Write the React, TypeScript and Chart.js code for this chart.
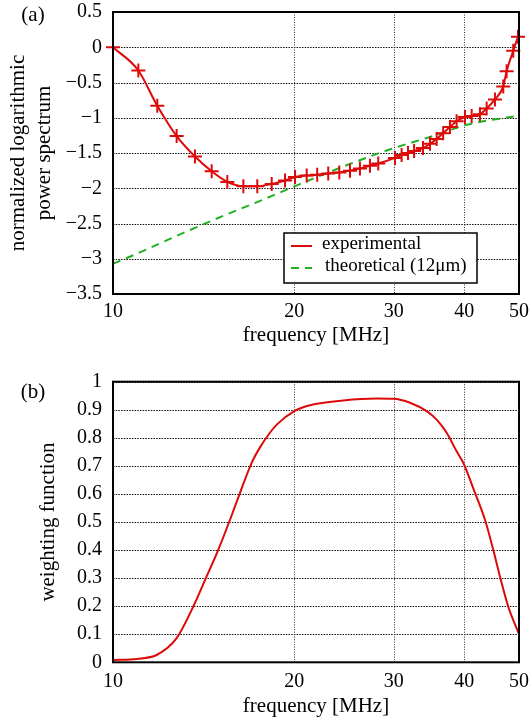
import React, { useEffect, useRef } from 'react';
import { Chart, registerables } from 'chart.js';

Chart.register(...registerables);

// ---------- data ----------
const X_MIN = 9.55;
const X_MAX = 50;
const X_TICKS = [9.55, 20, 30, 40, 50];
const X_TICK_LABELS = ['10', '20', '30', '40', '50'];
const X_GRID = [20, 30, 40];

const A_Y_TICKS = [-3.5, -3, -2.5, -2, -1.5, -1, -0.5, 0, 0.5];
const A_Y_TICK_LABELS = ['\u22123.5', '\u22123', '\u22122.5', '\u22122', '\u22121.5', '\u22121', '\u22120.5', '0', '0.5'];

const B_Y_TICKS = [0, 0.1, 0.2, 0.3, 0.4, 0.5, 0.6, 0.7, 0.8, 0.9, 1];
const B_Y_TICK_LABELS = ['0', '0.1', '0.2', '0.3', '0.4', '0.5', '0.6', '0.7', '0.8', '0.9', '1'];

const EXP_FREQ = [9.55, 10.59, 11.44, 12.38, 13.34, 14.28, 15.22, 16.25, 17.2, 18.24, 19.26, 20.06, 21.04, 21.96, 22.97, 24.03, 25.1, 26.14, 27.23, 28.17, 30.15, 30.98, 31.8, 32.6, 33.8, 34.78, 35.74, 36.7, 37.73, 38.77, 40.11, 41.22, 42.64, 43.82, 45.33, 46.89, 47.54, 48.84, 49.8];
const EXP_VALUE = [0, -0.33, -0.83, -1.26, -1.55, -1.76, -1.91, -1.97, -1.97, -1.94, -1.89, -1.84, -1.82, -1.81, -1.79, -1.775, -1.75, -1.72, -1.68, -1.65, -1.57, -1.53, -1.5, -1.47, -1.43, -1.37, -1.3, -1.22, -1.13, -1.05, -0.99, -0.975, -0.95, -0.87, -0.74, -0.555, -0.34, -0.05, 0.15];

const THEO_FREQ = [9.55, 10.1, 13.99, 17.63, 20.06, 24.1, 29.5, 35.2, 40.4, 50];
const THEO_VALUE = [-3.07, -2.99, -2.49, -2.16, -1.97, -1.71, -1.45, -1.26, -1.1, -0.97];

const W_FREQ = [9.55, 10.52, 11.41, 12.38, 13.25, 13.99, 14.67, 15.39, 16.03, 16.81, 17.39, 18.11, 18.62, 20.0, 21.32, 24.42, 27.98, 30.0, 32.05, 34.31, 35.74, 36.7, 37.23, 38.77, 39.83, 41.78, 43.52, 45.02, 46.26, 47.85, 50];
const W_VALUE = [0.008, 0.012, 0.026, 0.086, 0.199, 0.306, 0.401, 0.508, 0.604, 0.711, 0.766, 0.818, 0.847, 0.895, 0.916, 0.933, 0.94, 0.939, 0.925, 0.895, 0.865, 0.836, 0.818, 0.752, 0.711, 0.604, 0.508, 0.401, 0.306, 0.199, 0.1];

const SERIES_A_LABELS = ['experimental', 'theoretical (12\u03bcm)'];
const Y_TITLE_A = ['normalized logarithmic', 'power spectrum'];
const Y_TITLE_B = 'weighting function';
const X_TITLE = 'frequency [MHz]';

// ---------- styles ----------
const FONT = '"Liberation Serif", "Times New Roman", serif';
const RED = '#dd0a0a';
const GREEN = '#22b022';

const pts = (xs: number[], ys: number[]) => xs.map((x, i) => ({ x, y: ys[i] }));

function decorPlugin(panelLabel: string, labelX: number, labelY: number, withLegend: boolean) {
  return {
    id: 'decor' + panelLabel,
    beforeDatasetsDraw(chart: any) {
      const { ctx, chartArea: a, scales } = chart;
      const x = scales.x, y = scales.y;
      ctx.save();
      ctx.strokeStyle = '#111';
      ctx.lineWidth = 1.2;
      ctx.setLineDash([1.5, 1.2]);
      y.ticks.forEach((t: any) => {
        const py = Math.round(y.getPixelForValue(t.value)) + 0.5;
        ctx.beginPath(); ctx.moveTo(a.left, py); ctx.lineTo(a.right, py); ctx.stroke();
      });
      ctx.strokeStyle = '#333';
      ctx.lineWidth = 1;
      ctx.setLineDash([1, 1.5]);
      X_GRID.forEach((v) => {
        const px = Math.round(x.getPixelForValue(v)) + 0.5;
        ctx.beginPath(); ctx.moveTo(px, a.top); ctx.lineTo(px, a.bottom); ctx.stroke();
      });
      ctx.restore();
    },
    afterDraw(chart: any) {
      const { ctx, chartArea: a } = chart;
      ctx.save();
      ctx.setLineDash([]);
      ctx.strokeStyle = '#000';
      ctx.lineWidth = 2;
      ctx.strokeRect(a.left, a.top, a.right - a.left, a.bottom - a.top);
      ctx.fillStyle = '#000';
      ctx.font = '21px ' + FONT;
      ctx.textAlign = 'center';
      ctx.textBaseline = 'middle';
      ctx.fillText(panelLabel, labelX, labelY);
      if (withLegend) {
        const bx = 284, by = 233, bw = 193, bh = 50;
        ctx.fillStyle = '#fff';
        ctx.fillRect(bx, by, bw, bh);
        ctx.strokeStyle = '#000';
        ctx.lineWidth = 1.5;
        ctx.strokeRect(bx, by, bw, bh);
        const rows = [245.5, 267.5];
        chart.data.datasets.forEach((ds: any, i: number) => {
          ctx.save();
          ctx.strokeStyle = ds.borderColor;
          ctx.lineWidth = 2;
          ctx.setLineDash(ds.borderDash || []);
          ctx.beginPath(); ctx.moveTo(291, rows[i] + 0.5); ctx.lineTo(312, rows[i] + 0.5); ctx.stroke();
          ctx.restore();
          ctx.fillStyle = '#000';
          ctx.font = '19px ' + FONT;
          ctx.textAlign = 'left';
          ctx.textBaseline = 'middle';
          ctx.fillText(ds.label, i === 0 ? 322 : 325, rows[i] - 1);
        });
      }
      ctx.restore();
    },
  };
}

function xScale(height: number, tickPad: number, titleBottom: number) {
  return {
    type: 'logarithmic',
    min: X_MIN,
    max: X_MAX,
    afterBuildTicks: (s: any) => { s.ticks = X_TICKS.map((v) => ({ value: v })); },
    afterFit: (s: any) => { s.height = height; s.paddingLeft = 0; s.paddingRight = 0; },
    grid: { display: false, drawTicks: false },
    border: { display: false },
    ticks: {
      autoSkip: false, maxRotation: 0, minRotation: 0, padding: tickPad, color: '#000',
      font: { family: FONT, size: 20 },
      callback: (_v: any, i: number) => X_TICK_LABELS[i],
    },
    title: {
      display: true, text: X_TITLE, color: '#000',
      font: { family: FONT, size: 21, lineHeight: 1.2 },
      padding: { top: 0, bottom: titleBottom },
    },
  };
}

function yScale(min: number, max: number, ticks: number[], labels: string[], title: any, titlePad: number) {
  return {
    type: 'linear',
    min, max,
    afterBuildTicks: (s: any) => { s.ticks = ticks.map((v) => ({ value: v })); },
    afterFit: (s: any) => { s.width = 113; s.paddingTop = 0; s.paddingBottom = 0; },
    grid: { display: false, drawTicks: false },
    border: { display: false },
    ticks: {
      autoSkip: false, padding: 11, color: '#000',
      font: { family: FONT, size: 20 },
      callback: (_v: any, i: number) => labels[i],
    },
    title: {
      display: true, text: title, color: '#000',
      font: { family: FONT, size: 21, lineHeight: 1.25 },
      padding: { top: titlePad, bottom: 0 },
    },
  };
}

export default function App() {
  const refA = useRef<HTMLCanvasElement>(null);
  const refB = useRef<HTMLCanvasElement>(null);

  useEffect(() => {
    Chart.defaults.font.family = FONT;
    const chartA = new Chart(refA.current as HTMLCanvasElement, {
      type: 'line',
      data: {
        datasets: [
          {
            label: SERIES_A_LABELS[0],
            data: pts(EXP_FREQ, EXP_VALUE),
            borderColor: RED, backgroundColor: RED, borderWidth: 2,
            pointStyle: 'cross', pointRadius: 7, pointBorderWidth: 2, pointBorderColor: RED,
            cubicInterpolationMode: 'monotone', clip: false, order: 0,
          } as any,
          {
            label: SERIES_A_LABELS[1],
            data: pts(THEO_FREQ, THEO_VALUE),
            borderColor: GREEN, backgroundColor: GREEN, borderWidth: 2, borderDash: [8, 6],
            pointRadius: 0, cubicInterpolationMode: 'monotone', order: 1,
          } as any,
        ],
      },
      options: {
        animation: false, responsive: false,
        layout: { padding: { top: 12, right: 12, left: 0, bottom: 0 } },
        plugins: { legend: { display: false }, tooltip: { enabled: false } },
        scales: {
          x: xScale(66, 5.5, 12) as any,
          y: yScale(-3.5, 0.5, A_Y_TICKS, A_Y_TICK_LABELS, Y_TITLE_A, 5) as any,
        },
      },
      plugins: [decorPlugin('(a)', 33, 15, true)],
    });

    const chartB = new Chart(refB.current as HTMLCanvasElement, {
      type: 'line',
      data: {
        datasets: [
          {
            label: 'weighting function',
            data: pts(W_FREQ, W_VALUE),
            borderColor: RED, backgroundColor: RED, borderWidth: 2,
            pointRadius: 0, cubicInterpolationMode: 'monotone',
          } as any,
        ],
      },
      options: {
        animation: false, responsive: false,
        layout: { padding: { top: 21.7, right: 12, left: 0, bottom: 0 } },
        plugins: { legend: { display: false }, tooltip: { enabled: false } },
        scales: {
          x: xScale(57.7, 7.4, 0.5) as any,
          y: yScale(0, 1, B_Y_TICKS, B_Y_TICK_LABELS, Y_TITLE_B, 35) as any,
        },
      },
      plugins: [decorPlugin('(b)', 33, 32, false)],
    });

    return () => { chartA.destroy(); chartB.destroy(); };
  }, []);

  return (
    <div style={{ position: 'absolute', left: 0, top: 0, width: 531, height: 720, background: '#fff' }}>
      <canvas ref={refA} width={531} height={360} style={{ display: 'block', width: 531, height: 360 }} />
      <canvas ref={refB} width={531} height={360} style={{ display: 'block', width: 531, height: 360 }} />
    </div>
  );
}
